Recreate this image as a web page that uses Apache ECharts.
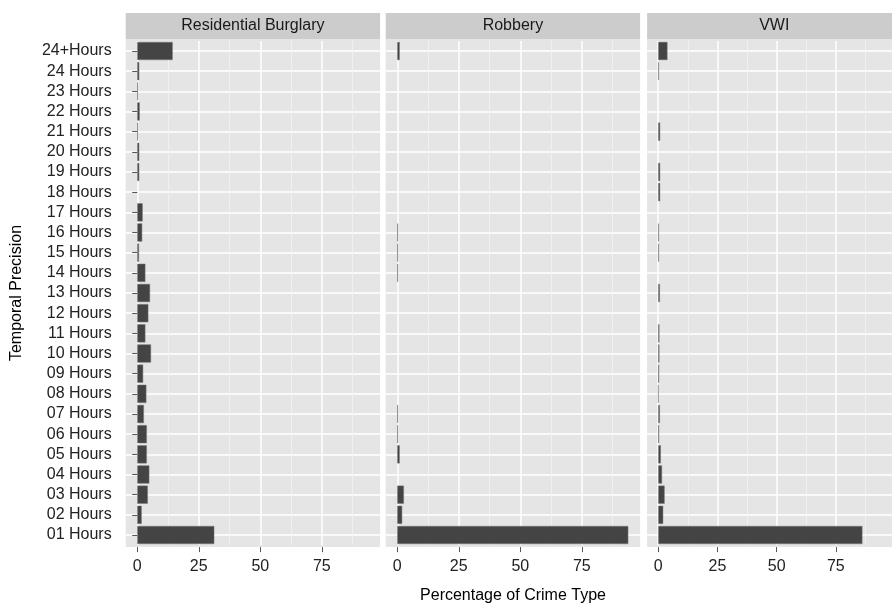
<!DOCTYPE html>
<html><head><meta charset="utf-8">
<script src="https://cdn.jsdelivr.net/npm/echarts@6/dist/echarts.min.js"></script>
<style>html,body{margin:0;padding:0;background:#fff}#c{width:892px;height:603px}</style>
</head><body><div id="c"></div><script>
// categories from bottom (01 Hours) to top (24+Hours)
const categories = ['01 Hours','02 Hours','03 Hours','04 Hours','05 Hours','06 Hours','07 Hours','08 Hours','09 Hours','10 Hours','11 Hours','12 Hours','13 Hours','14 Hours','15 Hours','16 Hours','17 Hours','18 Hours','19 Hours','20 Hours','21 Hours','22 Hours','23 Hours','24 Hours','24+Hours'];
const panelNames = ['Residential Burglary','Robbery','VWI'];
const burglary = [31.3,1.8,4.3,4.9,3.9,3.9,2.7,3.7,2.4,5.6,3.3,4.5,5.2,3.3,0.7,2.0,2.2,0,0.8,0.8,0.3,1.0,0.3,0.8,14.4];
const robbery  = [93.9,2.0,2.7,0,1.0,0.3,0.3,0,0,0,0,0,0,0.3,0.3,0.3,0,0,0,0,0,0,0,0,1.0];
const vwi      = [86.2,2.1,2.7,1.6,1.1,0.4,0.7,0.1,0.4,0.5,0.5,0,0.7,0,0.3,0.3,0,0.8,0.8,0,0.8,0,0,0.3,3.9];
const xTicks = [0,25,50,75];
const xMinorTicks = [12.5,37.5,62.5,87.5];
const xMin = -4.7, xMax = 98.7;
const seriesData = [burglary, robbery, vwi];

const panelLeft = [125.7, 385.7, 647.1];
const panelWidth = 254.4;
const plotTop = 38.9, plotBottom = 547.1;
const gridTop = 40.9, gridBottom = 545.1;
const FONT = '"Liberation Sans", Arial, Helvetica, sans-serif';

const grids = [], xAxes = [], yAxes = [], series = [], graphics = [];
for (let i = 0; i < 3; i++) {
  grids.push({left: panelLeft[i], width: panelWidth, top: gridTop, height: gridBottom - gridTop, containLabel: false});
  xAxes.push({
    type: 'value', gridIndex: i, min: xMin, max: xMax, offset: 2,
    axisLine: {show: false},
    axisTick: {show: true, customValues: xTicks, length: 5, lineStyle: {color: '#555', width: 1}},
    axisLabel: {show: true, customValues: xTicks, color: '#222', fontSize: 16, fontFamily: FONT, margin: 11},
    splitLine: {show: true, lineStyle: {color: '#ffffff', width: 1.5}}
  });
  xAxes.push({
    type: 'value', gridIndex: i, min: xMin, max: xMax,
    axisLine: {show: false},
    axisTick: {show: false, customValues: xMinorTicks},
    axisLabel: {show: false, customValues: xMinorTicks},
    splitLine: {show: true, lineStyle: {color: '#f2f2f2', width: 0.8}}
  });
  yAxes.push({
    type: 'category', gridIndex: i, data: categories,
    axisLine: {show: false},
    axisTick: {show: i === 0, alignWithLabel: true, interval: 0, length: 5, lineStyle: {color: '#555'}},
    axisLabel: {show: i === 0, interval: 0, color: '#222', fontSize: 16, fontFamily: FONT, margin: 14},
    splitLine: {show: true, alignWithLabel: true, interval: 0, lineStyle: {color: '#ffffff', width: 1.5}}
  });
  series.push({
    type: 'bar', xAxisIndex: 2 * i, yAxisIndex: i,
    data: seriesData[i].map(v => (v === 0 ? '-' : v)),
    barCategoryGap: '10%',
    itemStyle: {color: '#444444', borderColor: '#7a7a7a', borderWidth: 0.5},
    silent: true
  });
  graphics.push({type: 'rect', z: -1, shape: {x: panelLeft[i], y: plotTop, width: panelWidth, height: plotBottom - plotTop}, style: {fill: '#e5e5e5'}});
  graphics.push({type: 'rect', z: -1, shape: {x: panelLeft[i], y: 13, width: panelWidth, height: plotTop - 13}, style: {fill: '#cccccc'}});
  graphics.push({type: 'text', z: 5, x: panelLeft[i] + panelWidth / 2, y: 26,
    style: {text: panelNames[i], fill: '#1a1a1a', font: '16px ' + FONT, textAlign: 'center', textVerticalAlign: 'middle'}});
}
graphics.push({type: 'text', z: 5, x: 513, y: 596,
  style: {text: 'Percentage of Crime Type', fill: '#000', font: '16px ' + FONT, textAlign: 'center', textVerticalAlign: 'middle'}});
graphics.push({type: 'text', z: 5, x: 17, y: 293, rotation: Math.PI / 2,
  style: {text: 'Temporal Precision', fill: '#000', font: '16px ' + FONT, textAlign: 'center', textVerticalAlign: 'middle'}});

const chart = echarts.init(document.getElementById('c'));
chart.setOption({
  animation: false,
  backgroundColor: '#ffffff',
  grid: grids, xAxis: xAxes, yAxis: yAxes, series: series, graphic: graphics
});
</script></body></html>
